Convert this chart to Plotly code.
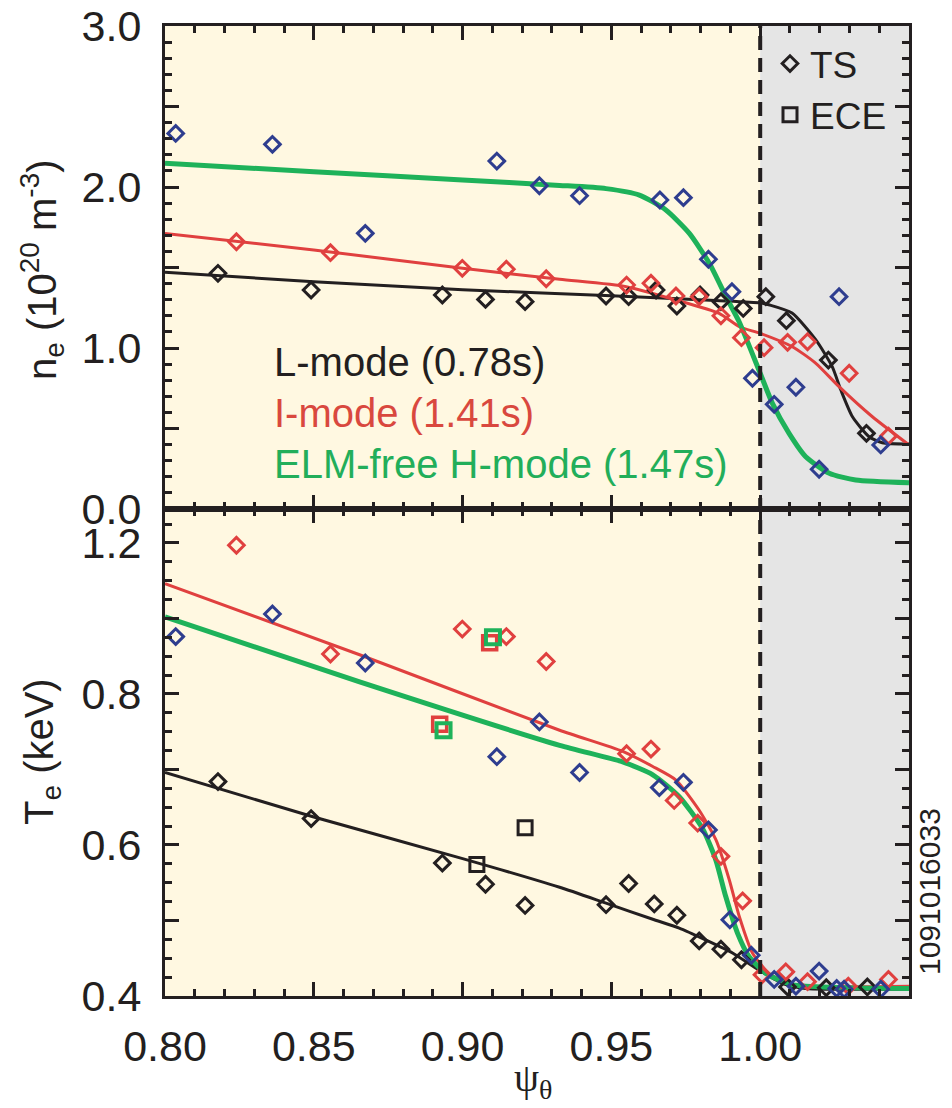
import plotly.graph_objects as go

# ---------------- data ----------------
# Top panel: electron density n_e (1e20 m^-3)
ne_L_x = [0.8178, 0.8491, 0.8932, 0.9077, 0.9210, 0.9482, 0.9558, 0.9650, 0.9720, 0.9798, 0.9868, 0.9943, 1.0019, 1.0088, 1.0229, 1.0357]
ne_L_y = [1.464, 1.360, 1.329, 1.302, 1.288, 1.323, 1.319, 1.360, 1.261, 1.329, 1.288, 1.246, 1.319, 1.170, 0.925, 0.470]
ne_I_x = [0.8240, 0.8556, 0.8999, 0.9147, 0.9281, 0.9551, 0.9633, 0.9717, 0.9795, 0.9868, 0.9937, 1.0013, 1.0092, 1.0159, 1.0299, 1.0431]
ne_I_y = [1.660, 1.592, 1.495, 1.489, 1.430, 1.391, 1.402, 1.323, 1.319, 1.200, 1.064, 1.002, 1.035, 1.039, 0.843, 0.453]
ne_H_x = [0.8036, 0.8361, 0.8673, 0.9115, 0.9258, 0.9393, 0.9663, 0.9742, 0.9826, 0.9905, 0.9974, 1.0047, 1.0120, 1.0198, 1.0265, 1.0405]
ne_H_y = [2.333, 2.265, 1.712, 2.161, 2.008, 1.946, 1.919, 1.934, 1.551, 1.350, 0.812, 0.650, 0.756, 0.247, 1.319, 0.398]

# fitted profiles (top)
fit_ne_L_x = [0.80, 0.85, 0.90, 0.95, 0.985, 1.000, 1.0032, 1.0107, 1.0187, 1.0242, 1.0271, 1.031, 1.0366, 1.041, 1.05]
fit_ne_L_y = [1.470, 1.412, 1.362, 1.325, 1.295, 1.280, 1.267, 1.217, 1.050, 0.884, 0.739, 0.573, 0.449, 0.412, 0.404]
fit_ne_I_x = [0.80, 0.85, 0.90, 0.9326, 0.955, 0.9717, 0.9862, 0.993, 1.000, 1.0108, 1.0187, 1.0265, 1.0377, 1.05]
fit_ne_I_y = [1.712, 1.609, 1.495, 1.427, 1.381, 1.298, 1.215, 1.132, 1.091, 1.008, 0.905, 0.760, 0.573, 0.398]
fit_ne_H_x = [0.80, 0.85, 0.90, 0.9326, 0.9482, 0.9594, 0.9683, 0.9762, 0.9829, 0.9885, 0.9930, 1.000, 1.0041, 1.0097, 1.0153, 1.0232, 1.0321, 1.05]
fit_ne_H_y = [2.147, 2.095, 2.043, 2.010, 1.990, 1.950, 1.857, 1.712, 1.526, 1.319, 1.160, 0.843, 0.656, 0.470, 0.325, 0.222, 0.180, 0.163]

# Bottom panel: electron temperature T_e (keV)
te_L_x = [0.8178, 0.8491, 0.8932, 0.9077, 0.9210, 0.9482, 0.9558, 0.9644, 0.9720, 0.9795, 0.9868, 0.9937, 1.0092, 1.0222, 1.0360]
te_L_y = [0.684, 0.635, 0.576, 0.548, 0.520, 0.521, 0.549, 0.522, 0.507, 0.473, 0.462, 0.448, 0.412, 0.411, 0.412]
te_I_x = [0.8240, 0.8556, 0.8999, 0.9147, 0.9281, 0.9551, 0.9633, 0.9711, 0.9790, 0.9868, 0.9941, 1.0006, 1.0086, 1.0159, 1.0296, 1.0431]
te_I_y = [0.997, 0.853, 0.886, 0.876, 0.843, 0.721, 0.727, 0.659, 0.629, 0.585, 0.526, 0.428, 0.432, 0.419, 0.413, 0.422]
te_H_x = [0.8036, 0.8361, 0.8673, 0.9115, 0.9258, 0.9393, 0.9661, 0.9742, 0.9826, 0.9898, 0.9970, 1.0047, 1.0120, 1.0198, 1.0257, 1.0282, 1.0405]
te_H_y = [0.876, 0.906, 0.841, 0.717, 0.763, 0.696, 0.676, 0.683, 0.620, 0.501, 0.454, 0.422, 0.413, 0.433, 0.410, 0.409, 0.409]

ece_L_x = [0.9048, 0.9210]
ece_L_y = [0.574, 0.623]
ece_I_x = [0.8923, 0.9091]
ece_I_y = [0.760, 0.868]
ece_H_x = [0.8936, 0.9102]
ece_H_y = [0.752, 0.875]

fit_te_L_x = [0.80, 0.85, 0.90, 0.9326, 0.9482, 0.9644, 0.9728, 0.9818, 0.9907, 0.9997, 1.0086, 1.0153, 1.05]
fit_te_L_y = [0.696, 0.637, 0.582, 0.544, 0.523, 0.501, 0.490, 0.474, 0.457, 0.434, 0.415, 0.410, 0.409]
fit_te_I_x = [0.80, 0.8654, 0.9326, 0.9538, 0.9639, 0.9717, 0.9795, 0.9851, 0.9896, 0.9930, 0.9974, 1.0030, 1.0108, 1.05]
fit_te_I_y = [0.946, 0.852, 0.752, 0.724, 0.704, 0.686, 0.646, 0.607, 0.554, 0.505, 0.457, 0.430, 0.415, 0.413]
fit_te_H_x = [0.80, 0.8654, 0.9326, 0.9538, 0.9639, 0.9728, 0.9806, 0.9851, 0.9884, 0.9924, 0.9963, 1.0019, 1.0108, 1.05]
fit_te_H_y = [0.902, 0.816, 0.732, 0.710, 0.693, 0.664, 0.622, 0.580, 0.532, 0.483, 0.452, 0.430, 0.415, 0.410]

# axis ticks / labels
x_tickvals = [0.80, 0.85, 0.90, 0.95, 1.00]
x_ticktext = ["0.80", "0.85", "0.90", "0.95", "1.00"]
ne_tickvals = [0.0, 0.5, 1.0, 1.5, 2.0, 2.5, 3.0]
ne_ticktext = ["0.0", "", "1.0", "", "2.0", "", "3.0"]
te_tickvals = [0.4, 0.5, 0.6, 0.7, 0.8, 0.9, 1.0]
te_ticktext = ["0.4", "", "0.6", "", "0.8", "", "1.2"]

X_RANGE = [0.80, 1.05]
NE_RANGE = [0.0, 3.0]
TE_RANGE = [0.4, 1.045]
SEPARATRIX = 1.00

mode_labels = ["L-mode (0.78s)", "I-mode (1.41s)", "ELM-free H-mode (1.47s)"]

# ---------------- styling ----------------
BLACK = "#231F20"
RED = "#E0403F"
GREEN = "#1EB25A"
BLUE = "#2E3D8F"
RED_TXT = "#D9483E"
GREEN_TXT = "#22AE5A"
YELLOW_BG = "#FFF8E1"
GRAY_BG = "#E5E5E5"
FONT = "Liberation Sans, Arial, sans-serif"

W, H = 952, 1108
ML, MR, MT, MB = 165, 43, 26, 112
SPLIT = (996 - 509) / (996 - 26)

fig = go.Figure()


def fit_line(x, y, color, width, xa, ya):
    fig.add_trace(go.Scatter(x=x, y=y, mode="lines", xaxis=xa, yaxis=ya,
                             line=dict(color=color, width=width, shape="spline", smoothing=0.6),
                             showlegend=False, hoverinfo="skip"))


def pts(x, y, color, symbol, size, lw, xa, ya, name=None, legend=False):
    fig.add_trace(go.Scatter(x=x, y=y, mode="markers", xaxis=xa, yaxis=ya, name=name,
                             marker=dict(symbol=symbol, size=size, color=color,
                                         line=dict(color=color, width=lw)),
                             showlegend=legend))


DS = 12   # diamond marker size
DW = 3    # diamond outline width

# top panel
fit_line(fit_ne_L_x, fit_ne_L_y, BLACK, 3, "x", "y")
fit_line(fit_ne_I_x, fit_ne_I_y, RED, 3, "x", "y")
fit_line(fit_ne_H_x, fit_ne_H_y, GREEN, 5, "x", "y")
pts(ne_L_x, ne_L_y, BLACK, "diamond-open", DS, DW, "x", "y", name="TS", legend=True)
pts(ne_I_x, ne_I_y, RED, "diamond-open", DS, DW, "x", "y")
pts(ne_H_x, ne_H_y, BLUE, "diamond-open", DS, DW, "x", "y")

# bottom panel
fit_line(fit_te_L_x, fit_te_L_y, BLACK, 3, "x2", "y2")
fit_line(fit_te_I_x, fit_te_I_y, RED, 3, "x2", "y2")
fit_line(fit_te_H_x, fit_te_H_y, GREEN, 5, "x2", "y2")
pts(te_L_x, te_L_y, BLACK, "diamond-open", DS, DW, "x2", "y2")
pts(te_I_x, te_I_y, RED, "diamond-open", DS, DW, "x2", "y2")
pts(te_H_x, te_H_y, BLUE, "diamond-open", DS, DW, "x2", "y2")
pts(ece_L_x, ece_L_y, BLACK, "square-open", 14, 3, "x2", "y2", name="ECE", legend=True)
pts(ece_I_x, ece_I_y, RED, "square-open", 14, 3.5, "x2", "y2")
pts(ece_H_x, ece_H_y, GREEN, "square-open", 14, 4, "x2", "y2")

axis_common = dict(showline=True, linewidth=3, linecolor=BLACK, mirror="allticks",
                   ticks="inside", ticklen=14, tickwidth=3, tickcolor=BLACK,
                   showgrid=False, zeroline=False,
                   tickfont=dict(family=FONT, size=43, color=BLACK))

PW = W - ML - MR
PH = H - MT - MB


def px_x(p):
    return (p - ML) / PW


def px_y(p):
    return (H - MB - p) / PH


fig.update_layout(
    width=W, height=H,
    margin=dict(l=ML, r=MR, t=MT, b=MB),
    paper_bgcolor="white", plot_bgcolor="white",
    template="none",
    font=dict(family=FONT, color=BLACK),
    xaxis=dict(domain=[0, 1], anchor="y", range=X_RANGE, tickmode="array",
               tickvals=x_tickvals, ticktext=x_ticktext, showticklabels=False,
               minor=dict(ticks="inside", ticklen=7, tickwidth=3, tickcolor=BLACK,
                          dtick=0.01, tick0=0.8, showgrid=False),
               **axis_common),
    yaxis=dict(domain=[SPLIT, 1], anchor="x", range=NE_RANGE, tickmode="array",
               tickvals=ne_tickvals, ticktext=ne_ticktext, ticklabelstandoff=12,
               minor=dict(ticks="inside", ticklen=7, tickwidth=3, tickcolor=BLACK,
                          dtick=0.1, tick0=0, showgrid=False),
               **axis_common),
    xaxis2=dict(domain=[0, 1], anchor="y2", range=X_RANGE, tickmode="array",
                tickvals=x_tickvals, ticktext=x_ticktext, ticklabelstandoff=10,
                minor=dict(ticks="inside", ticklen=7, tickwidth=3, tickcolor=BLACK,
                           dtick=0.01, tick0=0.8, showgrid=False),
                **axis_common),
    yaxis2=dict(domain=[0, SPLIT], anchor="x2", range=TE_RANGE, tickmode="array",
                tickvals=te_tickvals, ticktext=te_ticktext, ticklabelstandoff=12,
                minor=dict(ticks="inside", ticklen=7, tickwidth=3, tickcolor=BLACK,
                           dtick=0.025, tick0=0.4, showgrid=False),
                **axis_common),
    legend=dict(x=px_x(770), y=px_y(33), xanchor="left", yanchor="top",
                bgcolor="rgba(0,0,0,0)", font=dict(family=FONT, size=37, color=BLACK),
                itemsizing="trace", tracegroupgap=0),
    shapes=[
        dict(type="rect", xref="x", yref="paper", x0=X_RANGE[0], x1=SEPARATRIX, y0=0, y1=1,
             fillcolor=YELLOW_BG, line=dict(width=0), layer="below"),
        dict(type="rect", xref="x", yref="paper", x0=SEPARATRIX, x1=X_RANGE[1], y0=0, y1=1,
             fillcolor=GRAY_BG, line=dict(width=0), layer="below"),
        dict(type="line", xref="x", yref="paper", x0=SEPARATRIX, x1=SEPARATRIX, y0=0, y1=1,
             line=dict(color=BLACK, width=4, dash="14px,8px"), layer="above"),
    ],
)

ann = []
for label, color, ypix in zip(mode_labels, [BLACK, RED_TXT, GREEN_TXT], [362, 413, 464]):
    ann.append(dict(text=label, x=px_x(272), y=px_y(ypix), xref="paper", yref="paper",
                    xanchor="left", yanchor="middle", showarrow=False,
                    font=dict(family=FONT, size=40, color=color)))
ann.append(dict(text="n<sub>e</sub> (10<sup>20</sup> m<sup>-3</sup>)", x=px_x(42), y=px_y(270),
                xref="paper", yref="paper", textangle=-90, showarrow=False,
                xanchor="center", yanchor="middle", font=dict(family=FONT, size=40, color=BLACK)))
ann.append(dict(text="T<sub>e</sub> (keV)", x=px_x(42), y=px_y(752),
                xref="paper", yref="paper", textangle=-90, showarrow=False,
                xanchor="center", yanchor="middle", font=dict(family=FONT, size=40, color=BLACK)))
ann.append(dict(text="ψ<sub>θ</sub>", x=px_x(533), y=px_y(1080),
                xref="paper", yref="paper", showarrow=False,
                xanchor="center", yanchor="middle",
                font=dict(family="Liberation Serif, DejaVu Serif, serif", size=40, color=BLACK)))
ann.append(dict(text="1091016033", x=px_x(929), y=px_y(892),
                xref="paper", yref="paper", textangle=-90, showarrow=False,
                xanchor="center", yanchor="middle", font=dict(family=FONT, size=30, color=BLACK)))
fig.update_layout(annotations=ann)

fig.write_html("out.html")
